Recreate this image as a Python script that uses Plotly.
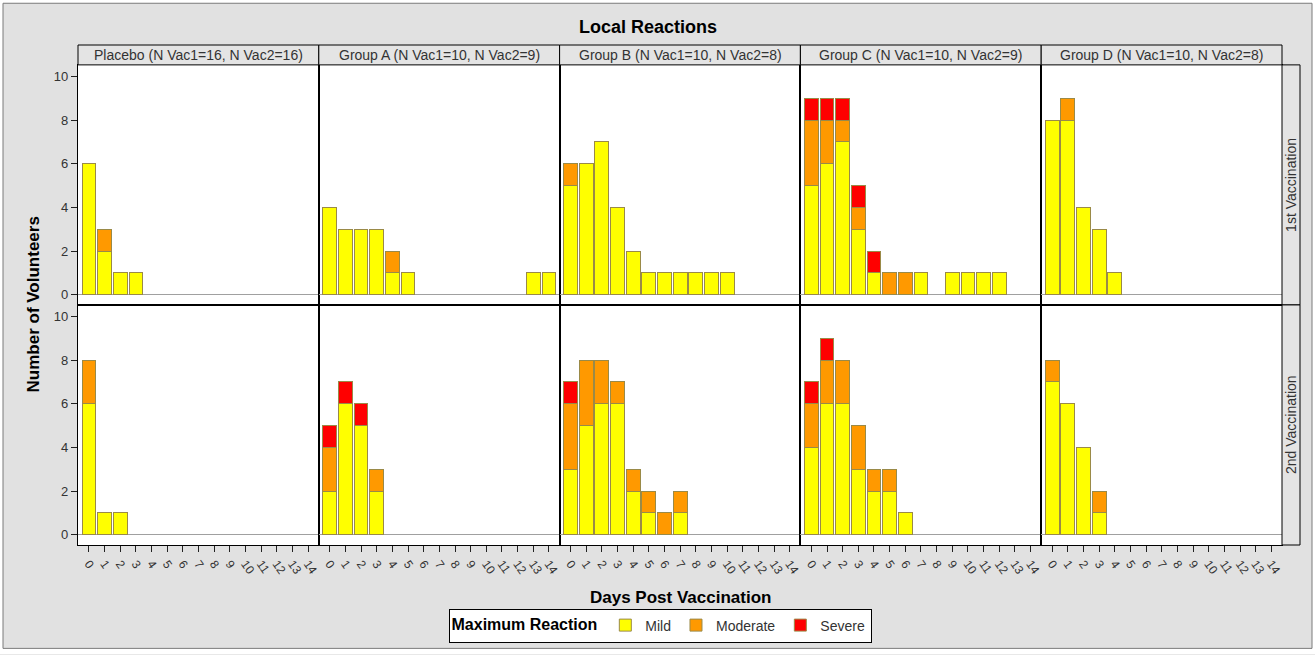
import plotly.graph_objects as go
from plotly.subplots import make_subplots

days = list(range(15))
groups = ["Placebo (N Vac1=16, N Vac2=16)", "Group A (N Vac1=10, N Vac2=9)",
          "Group B (N Vac1=10, N Vac2=8)", "Group C (N Vac1=10, N Vac2=9)",
          "Group D (N Vac1=10, N Vac2=8)"]
vaccinations = ["1st Vaccination", "2nd Vaccination"]
severities = ["Mild", "Moderate", "Severe"]
colors = ["#ffff00", "#ff9900", "#ff0000"]

# 1st vaccination, one list per group (Placebo, A, B, C, D), values per day 0..14
v1_mild = [
    [6, 2, 1, 1, 0, 0, 0, 0, 0, 0, 0, 0, 0, 0, 0],
    [4, 3, 3, 3, 1, 1, 0, 0, 0, 0, 0, 0, 0, 1, 1],
    [5, 6, 7, 4, 2, 1, 1, 1, 1, 1, 1, 0, 0, 0, 0],
    [5, 6, 7, 3, 1, 0, 0, 1, 0, 1, 1, 1, 1, 0, 0],
    [8, 8, 4, 3, 1, 0, 0, 0, 0, 0, 0, 0, 0, 0, 0],
]
v1_moderate = [
    [0, 1, 0, 0, 0, 0, 0, 0, 0, 0, 0, 0, 0, 0, 0],
    [0, 0, 0, 0, 1, 0, 0, 0, 0, 0, 0, 0, 0, 0, 0],
    [1, 0, 0, 0, 0, 0, 0, 0, 0, 0, 0, 0, 0, 0, 0],
    [3, 2, 1, 1, 0, 1, 1, 0, 0, 0, 0, 0, 0, 0, 0],
    [0, 1, 0, 0, 0, 0, 0, 0, 0, 0, 0, 0, 0, 0, 0],
]
v1_severe = [
    [0, 0, 0, 0, 0, 0, 0, 0, 0, 0, 0, 0, 0, 0, 0],
    [0, 0, 0, 0, 0, 0, 0, 0, 0, 0, 0, 0, 0, 0, 0],
    [0, 0, 0, 0, 0, 0, 0, 0, 0, 0, 0, 0, 0, 0, 0],
    [1, 1, 1, 1, 1, 0, 0, 0, 0, 0, 0, 0, 0, 0, 0],
    [0, 0, 0, 0, 0, 0, 0, 0, 0, 0, 0, 0, 0, 0, 0],
]
# 2nd vaccination
v2_mild = [
    [6, 1, 1, 0, 0, 0, 0, 0, 0, 0, 0, 0, 0, 0, 0],
    [2, 6, 5, 2, 0, 0, 0, 0, 0, 0, 0, 0, 0, 0, 0],
    [3, 5, 6, 6, 2, 1, 0, 1, 0, 0, 0, 0, 0, 0, 0],
    [4, 6, 6, 3, 2, 2, 1, 0, 0, 0, 0, 0, 0, 0, 0],
    [7, 6, 4, 1, 0, 0, 0, 0, 0, 0, 0, 0, 0, 0, 0],
]
v2_moderate = [
    [2, 0, 0, 0, 0, 0, 0, 0, 0, 0, 0, 0, 0, 0, 0],
    [2, 0, 0, 1, 0, 0, 0, 0, 0, 0, 0, 0, 0, 0, 0],
    [3, 3, 2, 1, 1, 1, 1, 1, 0, 0, 0, 0, 0, 0, 0],
    [2, 2, 2, 2, 1, 1, 0, 0, 0, 0, 0, 0, 0, 0, 0],
    [1, 0, 0, 1, 0, 0, 0, 0, 0, 0, 0, 0, 0, 0, 0],
]
v2_severe = [
    [0, 0, 0, 0, 0, 0, 0, 0, 0, 0, 0, 0, 0, 0, 0],
    [1, 1, 1, 0, 0, 0, 0, 0, 0, 0, 0, 0, 0, 0, 0],
    [1, 0, 0, 0, 0, 0, 0, 0, 0, 0, 0, 0, 0, 0, 0],
    [1, 1, 0, 0, 0, 0, 0, 0, 0, 0, 0, 0, 0, 0, 0],
    [0, 0, 0, 0, 0, 0, 0, 0, 0, 0, 0, 0, 0, 0, 0],
]
y_ticks = [0, 2, 4, 6, 8, 10]

data_by_row = [[v1_mild, v1_moderate, v1_severe], [v2_mild, v2_moderate, v2_severe]]

W, H = 1315, 655
L, R, T, B = 78, 1282, 45, 548
pw, ph = R - L, B - T

def px_x(p):
    return (p - L) / pw

def px_y(p):
    return (B - p) / ph

FONT = "Arial, Liberation Sans, sans-serif"
fig = make_subplots(rows=2, cols=5, horizontal_spacing=0, vertical_spacing=0)

for r in range(2):
    for c in range(5):
        for s in range(3):
            vals = [v if v else None for v in data_by_row[r][s][c]]
            fig.add_trace(go.Bar(
                x=days, y=vals, name=severities[s],
                marker=dict(color=colors[s], line=dict(color="#9a8a48", width=1)),
                showlegend=(r == 0 and c == 0), legendgroup=severities[s],
            ), row=r + 1, col=c + 1)

row_dom = [[px_y(306.5), px_y(65)], [0, px_y(306.5)]]
for r in range(2):
    for c in range(5):
        idx = r * 5 + c + 1
        xa = "xaxis" if idx == 1 else f"xaxis{idx}"
        ya = "yaxis" if idx == 1 else f"yaxis{idx}"
        fig.layout[xa].update(
            domain=[c / 5, (c + 1) / 5], range=[-0.7, 14.68],
            showline=True, linecolor="black", linewidth=1.3, mirror=True,
            showgrid=False, zeroline=False,
            tickmode="array", tickvals=days, ticktext=[str(d) for d in days],
            ticks="outside" if r == 1 else "", ticklen=6, tickcolor="#222",
            showticklabels=(r == 1), tickangle=55,
            tickfont=dict(family=FONT, size=12, color="#333"),
        )
        fig.layout[ya].update(
            domain=row_dom[r], range=[-0.47, 10.53],
            showline=True, linecolor="black", linewidth=1.3, mirror=True,
            showgrid=False, zeroline=True, zerolinecolor="#a0a0a0", zerolinewidth=1,
            tickmode="array", tickvals=y_ticks,
            ticks="outside" if c == 0 else "", ticklen=6, tickcolor="#222",
            showticklabels=(c == 0),
            tickfont=dict(family=FONT, size=13, color="#333"),
        )

shapes = []
annotations = []
# outer white edge and grey border
shapes.append(dict(type="rect", xref="paper", yref="paper",
                   x0=px_x(0), x1=px_x(W), y0=px_y(H), y1=px_y(0),
                   line=dict(color="white", width=6), fillcolor="rgba(0,0,0,0)"))
shapes.append(dict(type="rect", xref="paper", yref="paper",
                   x0=px_x(3), x1=px_x(1312), y0=px_y(652), y1=px_y(3),
                   line=dict(color="#7a7a7a", width=1), fillcolor="rgba(0,0,0,0)"))

def ann(x, y, text, size, angle=0, color="#333"):
    return dict(x=x, y=y, xref="paper", yref="paper", text=text, showarrow=False,
                xanchor="center", yanchor="middle", textangle=angle,
                font=dict(family=FONT, size=size, color=color))

# column header strips
for c in range(5):
    shapes.append(dict(type="rect", xref="paper", yref="paper",
                       x0=c / 5, x1=(c + 1) / 5, y0=px_y(65), y1=px_y(45),
                       line=dict(color="black", width=1), fillcolor="#e4e4e4"))
    annotations.append(ann((c + 0.5) / 5, px_y(55), groups[c], 14))
# row strips
for r in range(2):
    shapes.append(dict(type="rect", xref="paper", yref="paper",
                       x0=1.0, x1=px_x(1300), y0=row_dom[r][0], y1=row_dom[r][1],
                       line=dict(color="black", width=1), fillcolor="#e4e4e4"))
    annotations.append(ann(px_x(1291), (row_dom[r][0] + row_dom[r][1]) / 2,
                           vaccinations[r], 14, angle=-90))

annotations.append(ann(px_x(648), px_y(27), "<b>Local Reactions</b>", 18, color="black"))
annotations.append(ann(px_x(33), px_y(306), "<b>Number of Volunteers</b>", 17, angle=-90, color="black"))
annotations.append(ann(px_x(680), px_y(601), "<b>Days Post Vaccination</b>", 17, color="black"))

fig.update_layout(
    width=W, height=H,
    margin=dict(l=L, r=W - R, t=T, b=H - B),
    paper_bgcolor="#e1e1e1", plot_bgcolor="white",
    barmode="stack", bargap=0.12,
    font=dict(family=FONT, color="black"),
    shapes=shapes, annotations=annotations,
    legend=dict(orientation="h", x=px_x(660), y=px_y(629), xanchor="center", yanchor="middle",
                bgcolor="white", bordercolor="black", borderwidth=1,
                title=dict(text="<b>Maximum Reaction</b>", font=dict(family=FONT, size=16, color="black")),
                font=dict(family=FONT, size=14, color="#333"), itemwidth=30,
                traceorder="normal"),
)

fig.write_html("out.html")
